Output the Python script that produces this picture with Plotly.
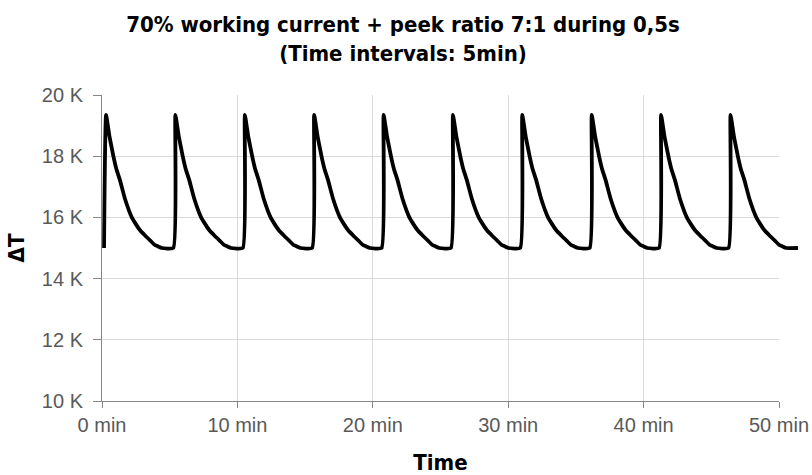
import plotly.graph_objects as go

# ---- data ----
rise_times_min = [0.15, 5.27, 10.40, 15.52, 20.65, 25.77, 30.89, 36.02, 41.14, 46.27]
profile_offset_min = [0.0, 0.15, 0.40, 0.69, 0.90, 1.18, 1.55, 2.05, 2.35, 2.66, 3.05, 3.40, 3.75, 4.00, 4.26]
profile_value_k = [15.0, 19.35, 18.65, 18.0, 17.6, 17.21, 16.6, 16.0, 15.78, 15.58, 15.4, 15.25, 15.1, 15.05, 15.0]
end_time_min = 51.4
end_value_k = 15.0

x_tickvals = [0, 10, 20, 30, 40, 50]
x_ticktext = ["0 min", "10 min", "20 min", "30 min", "40 min", "50 min"]
y_tickvals = [10, 12, 14, 16, 18, 20]
y_ticktext = ["10 K", "12 K", "14 K", "16 K", "18 K", "20 K"]

title_text = "70% working current + peek ratio 7:1 during 0,5s<br>(Time intervals: 5min)"

# ---- build series ----
xs, ys = [], []
for r in rise_times_min:
    for o, v in zip(profile_offset_min, profile_value_k):
        xs.append(r + o)
        ys.append(v)
xs.append(end_time_min)
ys.append(end_value_k)

W, H = 812, 475
ml, mr, mt, mb = 102, 7, 95, 74
plot_w = W - ml - mr
axis_w = 677
d1 = axis_w / plot_w

fig = go.Figure()
fig.add_trace(go.Scatter(x=xs, y=ys, mode="lines",
                         line=dict(color="#000000", width=3.8, shape="spline", smoothing=0.4),
                         xaxis="x2", yaxis="y2", showlegend=False))
# invisible trace to create the main (gridded) subplot
fig.add_trace(go.Scatter(x=[0], y=[10], mode="markers", marker=dict(opacity=0),
                         showlegend=False, hoverinfo="skip"))

tick_font = dict(family="Liberation Sans, Arial, sans-serif", size=20, color="#595959")
title_font = dict(family="DejaVu Sans Condensed, Liberation Sans Narrow, sans-serif",
                  size=22, color="#000000", weight="bold")

fig.update_layout(
    template="none",
    width=W, height=H,
    margin=dict(l=ml, r=mr, t=mt, b=mb, autoexpand=False),
    paper_bgcolor="#ffffff",
    plot_bgcolor="rgba(0,0,0,0)",
    title=dict(text=title_text, x=403 / W, xanchor="center", xref="container",
               y=1 - 32 / H, yanchor="top", yref="container",
               font=title_font),
    xaxis=dict(domain=[0, d1], range=[0, 50], tickvals=x_tickvals, ticktext=x_ticktext,
               showgrid=True, gridcolor="#d9d9d9", gridwidth=1,
               showline=True, linecolor="#868686", linewidth=1,
               ticks="outside", ticklen=6, tickcolor="#868686",
               tickfont=tick_font, zeroline=False, automargin=False,
               ticklabeloverflow="allow",
               title=dict(text="Time", font=title_font, standoff=27)),
    yaxis=dict(domain=[0, 1], range=[10, 20], tickvals=y_tickvals, ticktext=y_ticktext,
               showgrid=True, gridcolor="#d9d9d9", gridwidth=1,
               showline=True, linecolor="#868686", linewidth=1,
               ticks="outside", ticklen=8, tickcolor="#868686",
               tickfont=tick_font, zeroline=False, ticklabelstandoff=6, automargin=False,
               title=dict(text="ΔT", font=title_font, standoff=11)),
    xaxis2=dict(domain=[0, 1], range=[0, 50 / d1], anchor="y2", visible=False, automargin=False),
    yaxis2=dict(domain=[0, 1], range=[10, 20], anchor="x2", visible=False, automargin=False),
)

fig.write_html("out.html", config={"displayModeBar": False},
               post_script="document.body.style.margin='0px';")
